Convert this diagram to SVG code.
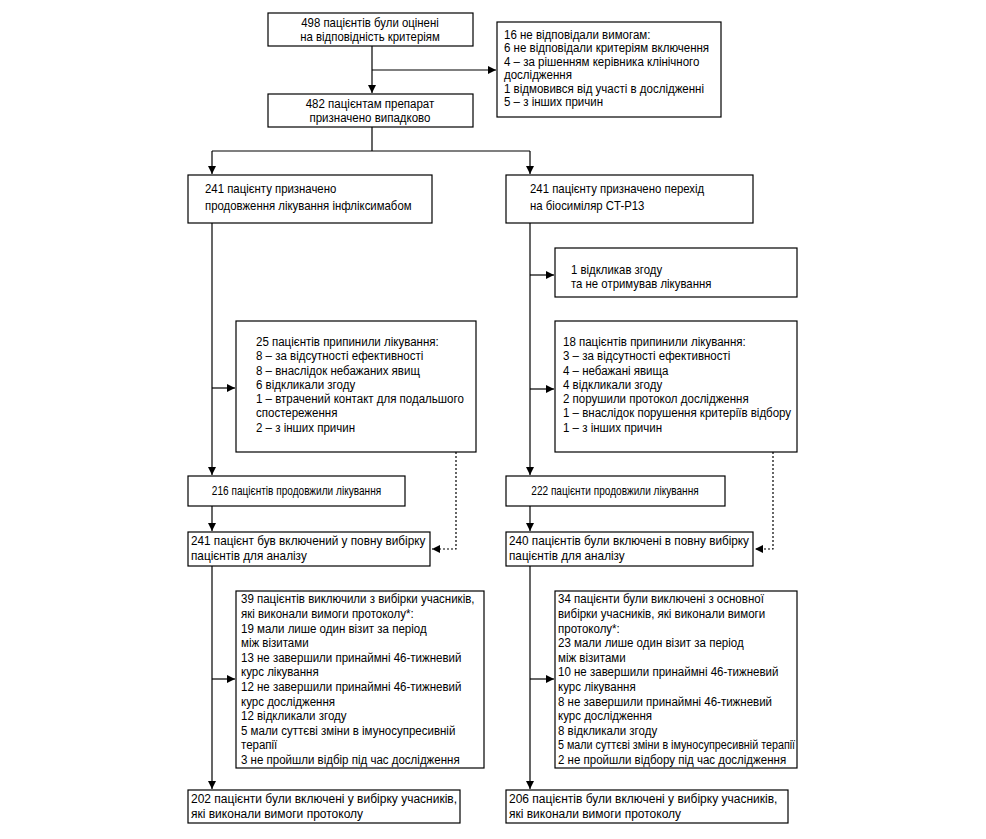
<svg xmlns="http://www.w3.org/2000/svg" width="986" height="839" viewBox="0 0 986 839">
<defs>
<marker id="arr" markerUnits="userSpaceOnUse" markerWidth="9" markerHeight="8" refX="8" refY="4" orient="auto">
<path d="M0,0 L8,4 L0,8 z" fill="#000"/>
</marker>
<style>
rect.b{fill:#fff;stroke:#000;stroke-width:1.2}
text{font-family:"Liberation Sans",Arial,sans-serif;font-size:12px;fill:#000}
text.c{text-anchor:middle}
.ln{fill:none;stroke:#000;stroke-width:1.2}
.dt{fill:none;stroke:#000;stroke-width:1.2;stroke-dasharray:2,2}
</style>
</defs>
<rect width="986" height="839" fill="#fff"/>
<g id="connectors">
<path class="ln" d="M372,46 V93" marker-end="url(#arr)"/>
<path class="ln" d="M372,70 H496" marker-end="url(#arr)"/>
<path class="ln" d="M372,127 V151 M212,151 H530"/>
<path class="ln" d="M212,151 V174" marker-end="url(#arr)"/>
<path class="ln" d="M530,151 V174" marker-end="url(#arr)"/>
<path class="ln" d="M212,223 V475" marker-end="url(#arr)"/>
<path class="ln" d="M212,388 H235" marker-end="url(#arr)"/>
<path class="ln" d="M530,223 V475" marker-end="url(#arr)"/>
<path class="ln" d="M530,275 H554" marker-end="url(#arr)"/>
<path class="ln" d="M530,389 H554" marker-end="url(#arr)"/>
<path class="dt" d="M456,452 V549 H432" marker-end="url(#arr)"/>
<path class="dt" d="M773,452 V549 H755" marker-end="url(#arr)"/>
<path class="ln" d="M212,506 V531" marker-end="url(#arr)"/>
<path class="ln" d="M530,506 V531" marker-end="url(#arr)"/>
<path class="ln" d="M212,566 V789" marker-end="url(#arr)"/>
<path class="ln" d="M212,679 H235" marker-end="url(#arr)"/>
<path class="ln" d="M530,566 V789" marker-end="url(#arr)"/>
<path class="ln" d="M530,679 H554" marker-end="url(#arr)"/>
</g>
<g id="n-screened">
<rect class="b" x="268" y="13" width="205" height="33"/>
<g transform="matrix(0.95,0,0,1,18.5,0)">
<text class="c" x="370" y="27">498 пацієнтів були оцінені</text>
<text class="c" x="370" y="41">на відповідність критеріям</text>
</g>
</g>
<g id="n-excluded">
<rect class="b" x="497" y="22" width="224" height="95"/>
<g transform="matrix(0.96,0,0,1,20.16,0)">
<text x="504" y="39">16 не відповідали вимогам:</text>
<text x="504" y="52.4">6 не відповідали критеріям включення</text>
<text x="504" y="65.8">4 – за рішенням керівника клінічного</text>
<text x="504" y="79.2">дослідження</text>
<text x="504" y="92.6">1 відмовився від участі в дослідженні</text>
<text x="504" y="106">5 – з інших причин</text>
</g>
</g>
<g id="n-random">
<rect class="b" x="268" y="94" width="205" height="33"/>
<g transform="matrix(0.96,0,0,1,14.8,0)">
<text class="c" x="370" y="108">482 пацієнтам препарат</text>
<text class="c" x="370" y="122">призначено випадково</text>
</g>
</g>
<g id="n-left-arm">
<rect class="b" x="188" y="175" width="244" height="48"/>
<g transform="matrix(0.95,0,0,1,10.25,0)">
<text x="205" y="193">241 пацієнту призначено</text>
<text x="205" y="210">продовження лікування інфліксимабом</text>
</g>
</g>
<g id="n-right-arm">
<rect class="b" x="506" y="175" width="247" height="48"/>
<g transform="matrix(0.95,0,0,1,26.5,0)">
<text x="530" y="193">241 пацієнту призначено перехід</text>
<text x="530" y="210">на біосиміляр CT-P13</text>
</g>
</g>
<g id="n-withdrew">
<rect class="b" x="555" y="248" width="242" height="49"/>
<g transform="matrix(0.95,0,0,1,28.55,0)">
<text x="571" y="274">1 відкликав згоду</text>
<text x="571" y="288">та не отримував лікування</text>
</g>
</g>
<g id="n-left-disc">
<rect class="b" x="236" y="321" width="240" height="131"/>
<g transform="matrix(0.96,0,0,1,10.24,0)">
<text x="256" y="346">25 пацієнтів припинили лікування:</text>
<text x="256" y="360.3">8 – за відсутності ефективності</text>
<text x="256" y="374.6">8 – внаслідок небажаних явищ</text>
<text x="256" y="388.9">6 відкликали згоду</text>
<text x="256" y="403.2">1 – втрачений контакт для подальшого</text>
<text x="256" y="417.5">спостереження</text>
<text x="256" y="431.8">2 – з інших причин</text>
</g>
</g>
<g id="n-right-disc">
<rect class="b" x="555" y="321" width="242" height="131"/>
<g transform="matrix(0.96,0,0,1,22.52,0)">
<text x="563" y="346">18 пацієнтів припинили лікування:</text>
<text x="563" y="360.3">3 – за відсутності ефективності</text>
<text x="563" y="374.6">4 – небажані явища</text>
<text x="563" y="388.9">4 відкликали згоду</text>
<text x="563" y="403.2">2 порушили протокол дослідження</text>
<text x="563" y="417.5">1 – внаслідок порушення критеріїв відбору</text>
<text x="563" y="431.8">1 – з інших причин</text>
</g>
</g>
<g id="n-left-cont">
<rect class="b" x="188" y="476" width="217" height="30"/>
<g transform="matrix(0.84,0,0,1,47.44,0)">
<text class="c" x="296.5" y="495">216 пацієнтів продовжили лікування</text>
</g>
</g>
<g id="n-right-cont">
<rect class="b" x="506" y="476" width="219" height="30"/>
<g transform="matrix(0.84,0,0,1,98.4,0)">
<text class="c" x="615" y="495">222 пацієнти продовжили лікування</text>
</g>
</g>
<g id="n-left-full">
<rect class="b" x="188" y="532" width="242" height="34"/>
<g transform="matrix(0.98,0,0,1,3.82,0)">
<text x="191" y="545">241 пацієнт був включений у повну вибірку</text>
<text x="191" y="560">пацієнтів для аналізу</text>
</g>
</g>
<g id="n-right-full">
<rect class="b" x="506" y="532" width="247" height="34"/>
<g transform="matrix(0.98,0,0,1,10.18,0)">
<text x="509" y="545">240 пацієнтів були включені в повну вибірку</text>
<text x="509" y="560">пацієнтів для аналізу</text>
</g>
</g>
<g id="n-left-pp-excl">
<rect class="b" x="236" y="591" width="248" height="177"/>
<g transform="matrix(0.96,0,0,1,9.64,0)">
<text x="241" y="603.5">39 пацієнтів виключили з вибірки учасників,</text>
<text x="241" y="618.1">які виконали вимоги протоколу*:</text>
<text x="241" y="632.7">19 мали лише один візит за період</text>
<text x="241" y="647.3">між візитами</text>
<text x="241" y="661.9">13 не завершили принаймні 46-тижневий</text>
<text x="241" y="676.5">курс лікування</text>
<text x="241" y="691.1">12 не завершили принаймні 46-тижневий</text>
<text x="241" y="705.7">курс дослідження</text>
<text x="241" y="720.3">12 відкликали згоду</text>
<text x="241" y="734.9">5 мали суттєві зміни в імуносупресивній</text>
<text x="241" y="749.5">терапії</text>
<text x="241" y="764.1">3 не пройшли відбір під час дослідження</text>
</g>
</g>
<g id="n-right-pp-excl">
<rect class="b" x="555" y="591" width="242" height="177"/>
<g transform="matrix(0.96,0,0,1,22.32,0)">
<text x="558" y="603.5">34 пацієнти були виключені з основної</text>
<text x="558" y="618.1">вибірки учасників, які виконали вимоги</text>
<text x="558" y="632.7">протоколу*:</text>
<text x="558" y="647.3">23 мали лише один візит за період</text>
<text x="558" y="661.9">між візитами</text>
<text x="558" y="676.5">10 не завершили принаймні 46-тижневий</text>
<text x="558" y="691.1">курс лікування</text>
<text x="558" y="705.7">8 не завершили принаймні 46-тижневий</text>
<text x="558" y="720.3">курс дослідження</text>
<text x="558" y="734.9">8 відкликали згоду</text>
<text x="558" y="749.5" textLength="247" lengthAdjust="spacingAndGlyphs">5 мали суттєві зміни в імуносупресивній терапії</text>
<text x="558" y="764.1">2 не пройшли відбору під час дослідження</text>
</g>
</g>
<g id="n-left-pp">
<rect class="b" x="188" y="790" width="272" height="33"/>
<text x="191" y="803">202 пацієнти були включені у вибірку учасників,</text>
<text x="191" y="818">які виконали вимоги протоколу</text>
</g>
<g id="n-right-pp">
<rect class="b" x="506" y="790" width="282" height="33"/>
<text x="509" y="803">206 пацієнтів були включені у вибірку учасників,</text>
<text x="509" y="818">які виконали вимоги протоколу</text>
</g>
</svg>
